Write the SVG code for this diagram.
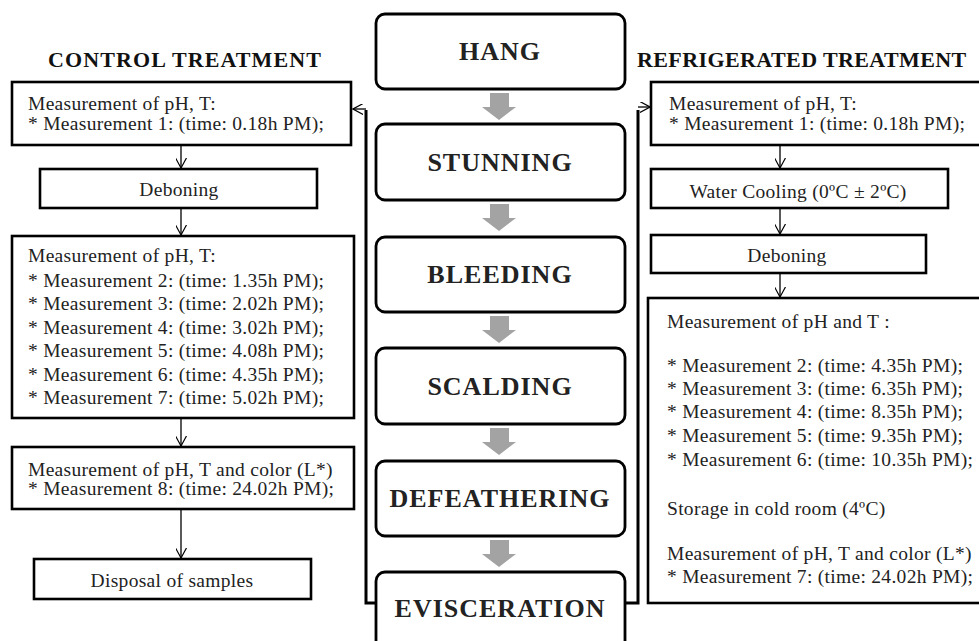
<svg xmlns="http://www.w3.org/2000/svg" width="979" height="641" viewBox="0 0 979 641">
<defs>
<style>
.box{fill:#fff;stroke:#000;stroke-width:2.6}
.step{fill:#fff;stroke:#000;stroke-width:2.8}
.t{font-family:"Liberation Serif","Times New Roman",serif;font-size:19.5px;fill:#222;letter-spacing:0.3px}
.c{text-anchor:middle}
.h{font-family:"Liberation Serif","Times New Roman",serif;font-size:26px;font-weight:bold;fill:#222;text-anchor:middle;letter-spacing:1px}
.ti{font-family:"Liberation Serif","Times New Roman",serif;font-size:22px;font-weight:bold;fill:#111;letter-spacing:1.1px}
.ln{fill:none;stroke:#000;stroke-width:1.3}
.thick{fill:none;stroke:#000;stroke-width:3}
.ga{fill:#a3a3a3}
</style>
<marker id="ah" viewBox="0 0 12 12" refX="11" refY="6" markerWidth="11" markerHeight="11" markerUnits="userSpaceOnUse" orient="auto">
<path d="M0,0 L11,6 L0,12" fill="none" stroke="#000" stroke-width="1.3"/>
</marker>
</defs>
<rect width="979" height="641" fill="#fff"/>

<text class="ti" x="48" y="67">CONTROL TREATMENT</text>
<text class="ti" x="637" y="67" style="letter-spacing:0.4px">REFRIGERATED TREATMENT</text>

<g id="hang"><rect class="step" x="376" y="14" width="249" height="75" rx="9"/><text class="h" x="500" y="60">HANG</text></g>
<g id="stunning"><rect class="step" x="376" y="124" width="249" height="76" rx="9"/><text class="h" x="500" y="171">STUNNING</text></g>
<g id="bleeding"><rect class="step" x="376" y="237" width="249" height="75" rx="9"/><text class="h" x="500" y="283">BLEEDING</text></g>
<g id="scalding"><rect class="step" x="376" y="348" width="249" height="76" rx="9"/><text class="h" x="500" y="395">SCALDING</text></g>
<g id="defeathering"><rect class="step" x="376" y="461" width="249" height="75" rx="9"/><text class="h" x="500" y="507">DEFEATHERING</text></g>
<g id="evisceration"><rect class="step" x="376" y="572" width="249" height="80" rx="9"/><text class="h" x="500" y="617">EVISCERATION</text></g>

<g id="c1"><rect class="box" x="12" y="82" width="339" height="63"/>
<text class="t" x="28" y="110">Measurement of pH, T:</text>
<text class="t" x="28" y="130">* Measurement 1: (time: 0.18h PM);</text></g>
<g id="c2"><rect class="box" x="40" y="169" width="277" height="39"/><text class="t c" x="179" y="196">Deboning</text></g>
<g id="c3"><rect class="box" x="12" y="236" width="342" height="182"/>
<text class="t" x="28" y="262">Measurement of pH, T:</text>
<text class="t" x="28" y="287">* Measurement 2: (time: 1.35h PM);</text>
<text class="t" x="28" y="310">* Measurement 3: (time: 2.02h PM);</text>
<text class="t" x="28" y="334">* Measurement 4: (time: 3.02h PM);</text>
<text class="t" x="28" y="357">* Measurement 5: (time: 4.08h PM);</text>
<text class="t" x="28" y="381">* Measurement 6: (time: 4.35h PM);</text>
<text class="t" x="28" y="404">* Measurement 7: (time: 5.02h PM);</text></g>
<g id="c4"><rect class="box" x="12" y="447" width="342" height="62"/>
<text class="t" x="28" y="476">Measurement of pH, T and color (L*)</text>
<text class="t" x="28" y="495">* Measurement 8: (time: 24.02h PM);</text></g>
<g id="c5"><rect class="box" x="34" y="559" width="277" height="40"/><text class="t c" x="172" y="587">Disposal of samples</text></g>

<g id="r1"><rect class="box" x="651" y="82" width="340" height="63"/>
<text class="t" x="669" y="110">Measurement of pH, T:</text>
<text class="t" x="669" y="130">* Measurement 1: (time: 0.18h PM);</text></g>
<g id="r2"><rect class="box" x="651" y="169" width="297" height="39"/><text class="t c" x="798" y="198">Water Cooling (0ºC ± 2ºC)</text></g>
<g id="r3"><rect class="box" x="651" y="235" width="275" height="38"/><text class="t c" x="787" y="262">Deboning</text></g>
<g id="r4"><rect class="box" x="648" y="298" width="345" height="305"/>
<text class="t" x="667" y="328">Measurement of pH and T :</text>
<text class="t" x="667" y="372">* Measurement 2: (time: 4.35h PM);</text>
<text class="t" x="667" y="395">* Measurement 3: (time: 6.35h PM);</text>
<text class="t" x="667" y="418">* Measurement 4: (time: 8.35h PM);</text>
<text class="t" x="667" y="442">* Measurement 5: (time: 9.35h PM);</text>
<text class="t" x="667" y="466">* Measurement 6: (time: 10.35h PM);</text>
<text class="t" x="667" y="515">Storage in cold room (4ºC)</text>
<text class="t" x="667" y="560">Measurement of pH, T and color (L*)</text>
<text class="t" x="667" y="583">* Measurement 7: (time: 24.02h PM);</text></g>

<g id="connectors">
<path class="ln" d="M181,145 V168" marker-end="url(#ah)"/>
<path class="ln" d="M181,208 V235" marker-end="url(#ah)"/>
<path class="ln" d="M181,418 V446" marker-end="url(#ah)"/>
<path class="ln" d="M181,509 V558" marker-end="url(#ah)"/>
<path class="ln" d="M780,145 V168" marker-end="url(#ah)"/>
<path class="ln" d="M780,208 V234" marker-end="url(#ah)"/>
<path class="ln" d="M780,273 V297" marker-end="url(#ah)"/>
<path class="thick" d="M376,603 H366 V110"/>
<path class="ln" d="M366,109 H353" marker-end="url(#ah)"/>
<path class="thick" d="M625,603 H638 V110"/>
<path class="ln" d="M638,107 H650" marker-end="url(#ah)"/>
<polygon class="ga" points="490,93 509,93 509,107 516,107 499,120 482,107 490,107"/>
<polygon class="ga" points="490,204 509,204 509,218 516,218 499,231 482,218 490,218"/>
<polygon class="ga" points="490,316 509,316 509,330 516,330 499,343 482,330 490,330"/>
<polygon class="ga" points="490,428 509,428 509,442 516,442 499,455 482,442 490,442"/>
<polygon class="ga" points="490,540 509,540 509,554 516,554 499,567 482,554 490,554"/>
</g>
</svg>
